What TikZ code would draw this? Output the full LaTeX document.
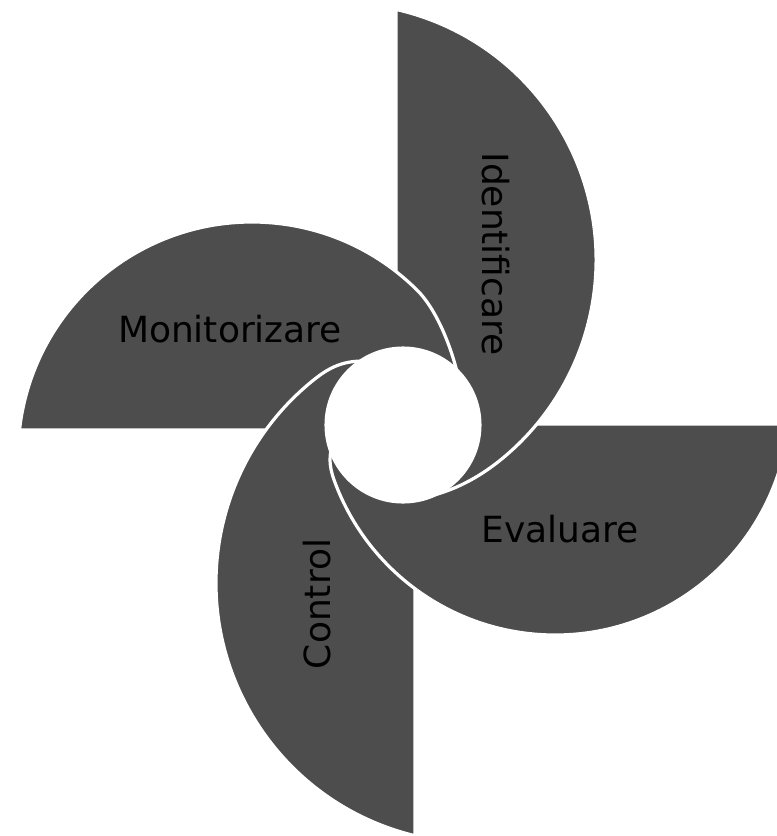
\documentclass[tikz,border=0pt]{standalone}
\usepackage{fontspec}
\setmainfont{DejaVu Sans}
\usepackage{xcolor}
\usepackage{tikz}

\definecolor{bladegray}{RGB}{77,77,77}
\tikzset{
  blade/.style={fill=bladegray, draw=white, line width=2.4pt, line join=round},
  bladelabel/.style={inner sep=0pt, font=\fontsize{27}{32}\selectfont, text=black}
}

\begin{document}
\begin{tikzpicture}[x=0.75pt,y=0.75pt,yscale=-1,xscale=1]
        \useasboundingbox (0,0) rectangle (776,836);
        % blades: Evaluare, Identificare, Monitorizare, Control
        \filldraw[blade] (788.8,424) arc[start angle=5.86, end angle=160, radius=176.25pt] .. controls (329.1,466.3) and (327,452) .. (338,432) -- (400,424) -- cycle;
        \filldraw[blade] (396,9.4) arc[start angle=-77.2, end angle=52, radius=192.75pt] .. controls (477.5,477.9) and (455,490) .. (430,496) -- (396,470) -- cycle;
        \filldraw[blade] (19.5,430) arc[start angle=186.38, end angle=315, radius=175.5pt] .. controls (435,308) and (452,345) .. (460,385) -- (405,430) -- cycle;
        \filldraw[blade] (414.9,835.7) arc[start angle=103.6, end angle=232, radius=195pt] .. controls (335.6,362.7) and (352,359) .. (378,362) -- (415,400) -- cycle;
        % Evaluare once more, over Control
        \begin{scope}
        \clip (0,424) rectangle (417,836);
        \filldraw[blade] (788.8,424) arc[start angle=5.86, end angle=160, radius=176.25pt] .. controls (329.1,466.3) and (327,452) .. (338,432) -- (400,424) -- cycle;
        \end{scope}
        \fill[white] (403,425) circle [radius=58.9pt];

        \node[bladelabel, rotate=-90] (ident) at (496,254) {Identificare};
        \node[bladelabel] (monit) at (230,329) {Monitorizare};
        \node[bladelabel] (eval) at (560,529) {Evaluare};
        \node[bladelabel, rotate=90] (ctrl) at (317,604) {Control};
\end{tikzpicture}
\end{document}
